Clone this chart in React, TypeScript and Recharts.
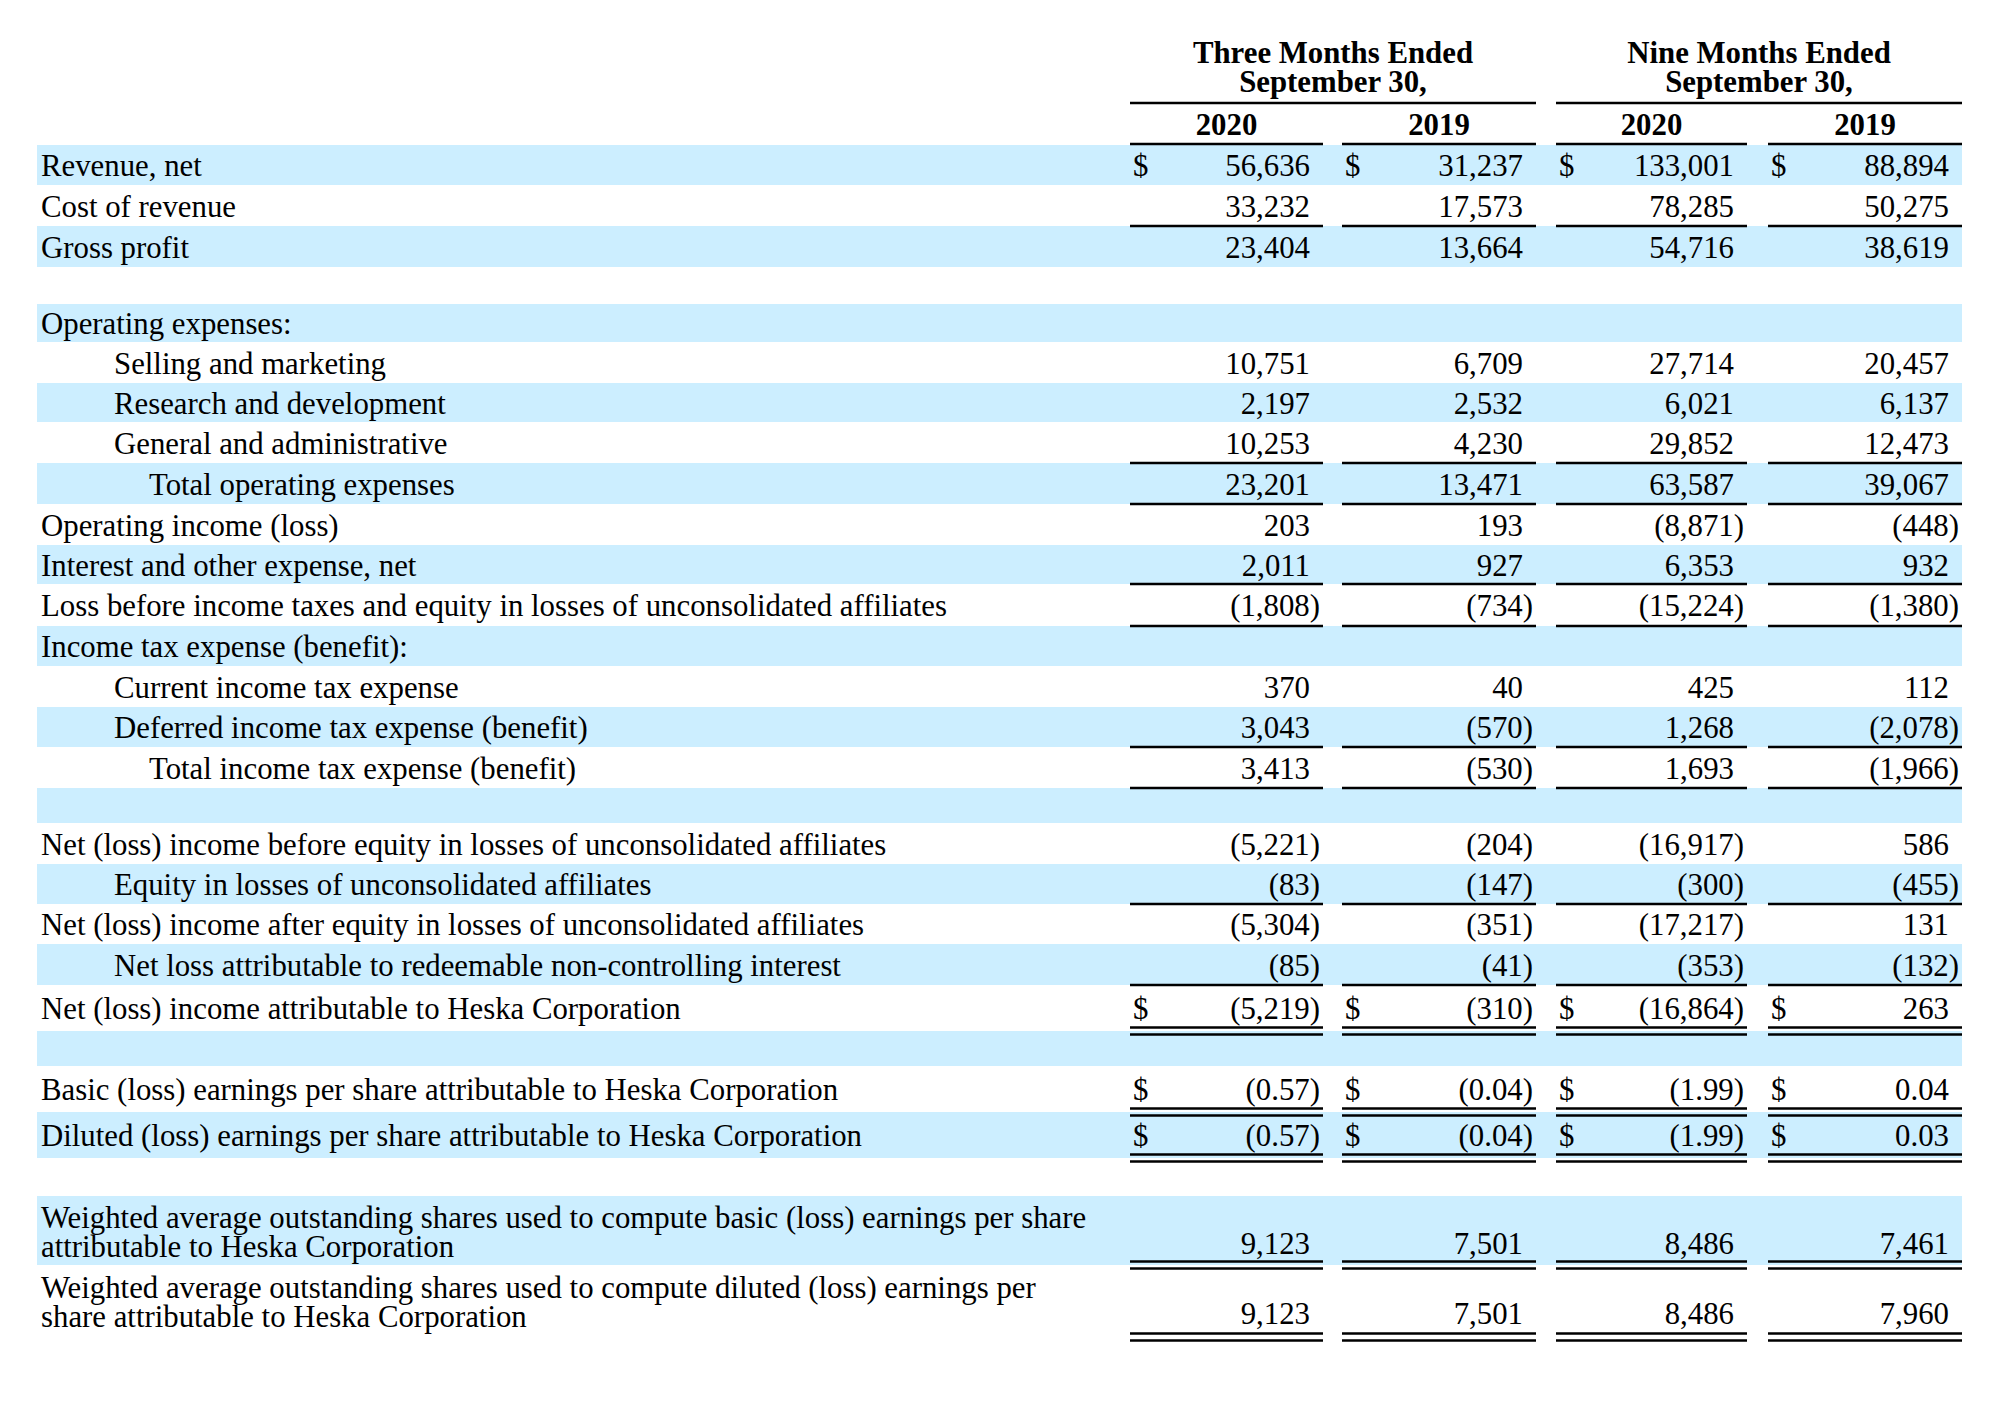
import React from 'react'
import { ScatterChart, Scatter, XAxis, YAxis, ReferenceArea, ReferenceLine } from 'recharts'

// row captions, top to bottom
const rowLabels = [
  'Revenue, net',
  'Cost of revenue',
  'Gross profit',
  '',
  'Operating expenses:',
  'Selling and marketing',
  'Research and development',
  'General and administrative',
  'Total operating expenses',
  'Operating income (loss)',
  'Interest and other expense, net',
  'Loss before income taxes and equity in losses of unconsolidated affiliates',
  'Income tax expense (benefit):',
  'Current income tax expense',
  'Deferred income tax expense (benefit)',
  'Total income tax expense (benefit)',
  '',
  'Net (loss) income before equity in losses of unconsolidated affiliates',
  'Equity in losses of unconsolidated affiliates',
  'Net (loss) income after equity in losses of unconsolidated affiliates',
  'Net loss attributable to redeemable non-controlling interest',
  'Net (loss) income attributable to Heska Corporation',
  '',
  'Basic (loss) earnings per share attributable to Heska Corporation',
  'Diluted (loss) earnings per share attributable to Heska Corporation',
  '',
  'Weighted average outstanding shares used to compute basic (loss) earnings per share\nattributable to Heska Corporation',
  'Weighted average outstanding shares used to compute diluted (loss) earnings per\nshare attributable to Heska Corporation',
]

const periodHeaders = ['Three Months Ended', 'Nine Months Ended']
const periodSubHeader = 'September 30,'
const yearHeaders = ['2020', '2019', '2020', '2019']

const threeMonths2020 = [56636, 33232, 23404, null, null, 10751, 2197, 10253, 23201, 203, 2011, -1808, null, 370, 3043, 3413, null, -5221, -83, -5304, -85, -5219, null, -0.57, -0.57, null, 9123, 9123]
const threeMonths2019 = [31237, 17573, 13664, null, null, 6709, 2532, 4230, 13471, 193, 927, -734, null, 40, -570, -530, null, -204, -147, -351, -41, -310, null, -0.04, -0.04, null, 7501, 7501]
const nineMonths2020 = [133001, 78285, 54716, null, null, 27714, 6021, 29852, 63587, -8871, 6353, -15224, null, 425, 1268, 1693, null, -16917, -300, -17217, -353, -16864, null, -1.99, -1.99, null, 8486, 8486]
const nineMonths2019 = [88894, 50275, 38619, null, null, 20457, 6137, 12473, 39067, -448, 932, -1380, null, 112, -2078, -1966, null, 586, -455, 131, -132, 263, null, 0.04, 0.03, null, 7461, 7960]

const series = [threeMonths2020, threeMonths2019, nineMonths2020, nineMonths2019]

// layout
const W = 2000
const H = 1419
const FONT = '"Liberation Serif", "Times New Roman", serif'
const FS = 30.8
const BAND = '#cceeff'
const tableTop = 145
const rowHeights = [40, 41, 41, 37, 38, 41, 39, 41, 41, 41, 39, 42, 40, 41, 40, 41, 35, 41, 40, 40, 41, 46, 35, 46, 46, 38, 69, 72]
const indent = [0, 0, 0, 0, 0, 1, 1, 1, 2, 0, 0, 0, 0, 1, 1, 2, 0, 0, 1, 0, 1, 0, 0, 0, 0, 0, 0, 0]
const indentX = [41, 114, 149]
// 0 none, 1 single rule, 2 double rule under the row
const rules = [0, 1, 0, 0, 0, 0, 0, 1, 1, 0, 1, 1, 0, 0, 1, 1, 0, 0, 1, 0, 1, 2, 0, 2, 2, 0, 2, 2]
const dollarRows = [0, 21, 23, 24]
const colSpans = [[1130, 1323], [1342, 1536], [1556, 1747], [1768, 1962]]
const bandX = [37, 1962]

const rowTops: number[] = []
rowHeights.forEach((h, i) => rowTops.push(i === 0 ? tableTop : rowTops[i - 1] + rowHeights[i - 1]))
const rowCenter = (i: number) => rowTops[i] + rowHeights[i] / 2
const rowBottom = (i: number) => rowTops[i] + rowHeights[i]

const fmt = (v: number) => {
  const dec = Number.isInteger(v) ? 0 : 2
  const s = Math.abs(v).toLocaleString('en-US', { minimumFractionDigits: dec, maximumFractionDigits: dec })
  return v < 0 ? `(${s})` : s
}

const labelData = rowLabels
  .map((label, i) => ({ x: indentX[indent[i]], y: rowCenter(i), label, twoLine: label.includes('\n') }))
  .filter((d) => d.label)

const cellData = series.map((values, c) =>
  values
    .map((v, i) => (v === null ? null : { x: colSpans[c][1] - 13, y: rowCenter(i), value: v, text: fmt(v), twoLine: rowLabels[i].includes('\n') }))
    .filter(Boolean)
)

const dollarData = colSpans.flatMap((span) => dollarRows.map((r) => ({ x: span[0] + 3, y: rowCenter(r) })))

const headerData = [
  ...periodHeaders.flatMap((t, p) => [
    { x: (colSpans[p * 2][0] + colSpans[p * 2 + 1][1]) / 2, y: 53, text: t },
    { x: (colSpans[p * 2][0] + colSpans[p * 2 + 1][1]) / 2, y: 82, text: periodSubHeader },
  ]),
  ...yearHeaders.map((t, c) => ({ x: (colSpans[c][0] + colSpans[c][1]) / 2, y: 125, text: t })),
]

const textStyle = { fontFamily: FONT, fontSize: FS, fill: '#000' }

const LabelShape = (props: any) => {
  const { cx, cy, payload } = props
  if (payload.twoLine) {
    const [a, b] = payload.label.split('\n')
    return (
      <text x={cx} y={cy - 3} style={textStyle}>
        <tspan x={cx}>{a}</tspan>
        <tspan x={cx} dy={29}>{b}</tspan>
      </text>
    )
  }
  return <text x={cx} y={cy + 11} style={textStyle}>{payload.label}</text>
}

const CellShape = (props: any) => {
  const { cx, cy, payload } = props
  const shift = payload.value < 0 ? 10 : 0
  return (
    <text x={cx + shift} y={cy + (payload.twoLine ? 23 : 11)} textAnchor="end" style={textStyle}>
      {payload.text}
    </text>
  )
}

const DollarShape = (props: any) => (
  <text x={props.cx} y={props.cy + 11} style={textStyle}>$</text>
)

const HeaderShape = (props: any) => (
  <text x={props.cx} y={props.cy + 10} textAnchor="middle" style={{ ...textStyle, fontWeight: 'bold' }}>
    {props.payload.text}
  </text>
)

const App: React.FC = () => {
  const lines: Array<{ x1: number; x2: number; y: number }> = []
  // header rules
  lines.push({ x1: colSpans[0][0], x2: colSpans[1][1], y: 103 })
  lines.push({ x1: colSpans[2][0], x2: colSpans[3][1], y: 103 })
  colSpans.forEach((s) => lines.push({ x1: s[0], x2: s[1], y: tableTop - 1 }))
  rules.forEach((r, i) => {
    colSpans.forEach((s) => {
      if (r === 1) lines.push({ x1: s[0], x2: s[1], y: rowBottom(i) })
      if (r === 2) {
        lines.push({ x1: s[0], x2: s[1], y: rowBottom(i) - 3.5 })
        lines.push({ x1: s[0], x2: s[1], y: rowBottom(i) + 3.5 })
      }
    })
  })

  return (
    <div>
      <style>{'body{margin:0;background:#fff}'}</style>
      <ScatterChart width={W} height={H} margin={{ top: 0, right: 0, bottom: 0, left: 0 }}>
        <XAxis type="number" dataKey="x" domain={[0, W]} allowDataOverflow hide />
        <YAxis type="number" dataKey="y" domain={[0, H]} allowDataOverflow reversed hide />
        {rowLabels.map((_, i) =>
          i % 2 === 0 ? (
            <ReferenceArea
              key={`band-${i}`}
              x1={bandX[0]}
              x2={bandX[1]}
              y1={rowTops[i]}
              y2={rowBottom(i)}
              fill={BAND}
              fillOpacity={1}
              stroke="none"
              ifOverflow="visible"
            />
          ) : null
        )}
        {lines.map((l, i) => (
          <ReferenceLine
            key={`rule-${i}`}
            segment={[{ x: l.x1, y: l.y }, { x: l.x2, y: l.y }]}
            stroke="#000"
            strokeWidth={2.6}
            ifOverflow="visible"
          />
        ))}
        <Scatter data={headerData} shape={HeaderShape} isAnimationActive={false} />
        <Scatter data={labelData} shape={LabelShape} isAnimationActive={false} />
        <Scatter data={dollarData} shape={DollarShape} isAnimationActive={false} />
        {cellData.map((d, c) => (
          <Scatter key={`col-${c}`} data={d as any[]} shape={CellShape} isAnimationActive={false} />
        ))}
      </ScatterChart>
    </div>
  )
}

export default App
